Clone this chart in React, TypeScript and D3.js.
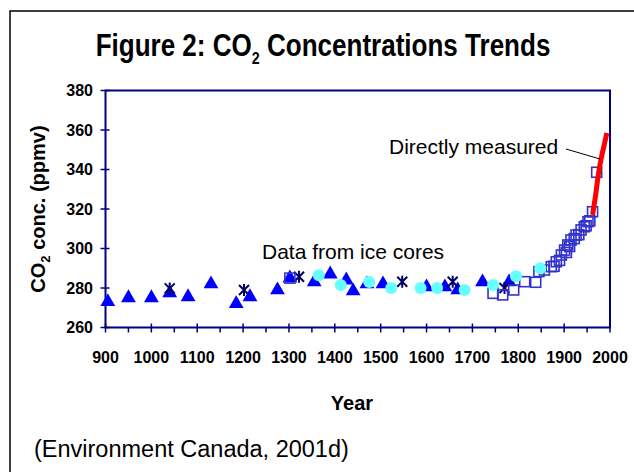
import React from 'react';
import * as d3 from 'd3';

const title = 'Figure 2: CO';
const xTicks = [900, 1000, 1100, 1200, 1300, 1400, 1500, 1600, 1700, 1800, 1900, 2000];
const xMinorTicks = [950, 1050, 1150, 1250, 1350, 1450, 1550, 1650, 1750, 1850, 1950];
const yTicks = [260, 280, 300, 320, 340, 360, 380];

// Ice core series (year, ppmv)
const triangles: [number, number][] = [
  [905, 273], [950, 275], [1000, 275], [1040, 277.5], [1080, 275.5], [1130, 282],
  [1185, 272], [1215, 275.5], [1275, 279], [1302, 285], [1355, 283], [1390, 287],
  [1425, 284], [1440, 278.5], [1470, 282], [1505, 282], [1600, 280.5], [1640, 280.5],
  [1668, 279], [1722, 283], [1780, 283],
];
const circles: [number, number][] = [
  [1365, 286.5], [1413, 281.5], [1475, 283], [1523, 280], [1587, 280], [1623, 280],
  [1683, 279], [1745, 281.5], [1795, 286], [1848, 290],
];
const asterisks: [number, number][] = [
  [1040, 279.8], [1202, 279], [1322, 285.7], [1547, 283.2], [1657, 283.2], [1770, 280],
];
const squares: [number, number][] = [
  [1302, 285], [1745, 277.3], [1766, 276.5], [1790, 279], [1814, 283.2], [1838, 282.9],
  [1845, 288.3], [1857, 289.1], [1872, 290.8], [1878, 291], [1883, 293.3], [1890, 294],
  [1894, 296.7], [1901, 299.2], [1905, 298], [1908, 301.8], [1912, 301], [1915, 304.3],
  [1922, 305], [1926, 306.8], [1932, 307], [1937, 309.4], [1944, 311], [1948, 311.5],
  [1952, 313.6], [1956, 314], [1962, 318.6], [1971, 338.6],
];
// Directly measured
const measured: [number, number][] = [
  [1962, 317], [1968, 326], [1975, 338], [1982, 347], [1988, 353], [1993, 358.5],
];

const FONT = '"Liberation Sans", Arial, Helvetica, sans-serif';
const NAVY = '#000080';

export default function App() {
  const x = d3.scaleLinear().domain([900, 2000]).range([105.5, 610]);
  const y = d3.scaleLinear().domain([260, 380]).range([327.5, 90.5]);
  const tri = d3.symbol().type(d3.symbolTriangle).size(95)() as string;
  const line = d3
    .line<[number, number]>()
    .x((d) => x(d[0]))
    .y((d) => y(d[1]))
    .curve(d3.curveMonotoneX);
  const ast = 'M-5,-5L5,5M-5,5L5,-5M0,-6L0,6';

  return (
    <svg
      width={634}
      height={472}
      style={{ position: 'absolute', left: 0, top: 0, background: '#fff' }}
      fontFamily={FONT}
    >
      <rect x={0} y={0} width={634} height={472} fill="#fff" />
      {/* frame */}
      <path d="M10,480L10,11L640,11" fill="none" stroke="#000" strokeWidth={1.5} />

      {/* title */}
      <text
        transform="translate(323,56) scale(0.84,1)"
        x={0}
        y={0}
        textAnchor="middle"
        fontWeight="bold"
        fontSize={31}
        fill="#000"
      >
        {title}
        <tspan fontSize={17} dy={8}>2</tspan>
        <tspan dy={-8}> Concentrations Trends</tspan>
      </text>

      {/* plot box */}
      <rect
        x={x(900)}
        y={y(380)}
        width={x(2000) - x(900)}
        height={y(260) - y(380)}
        fill="none"
        stroke={NAVY}
        strokeWidth={2}
      />
      {/* y ticks */}
      {yTicks.map((t) => (
        <g key={'y' + t}>
          <line x1={x(900) - 5} x2={x(900) + 4} y1={y(t)} y2={y(t)} stroke={NAVY} strokeWidth={1.5} />
          <text
            x={93}
            y={y(t)}
            dy="0.36em"
            textAnchor="end"
            fontWeight="bold"
            fontSize={16}
            fill="#000"
          >
            {t}
          </text>
        </g>
      ))}
      {/* x ticks */}
      {xTicks.map((t) => (
        <g key={'x' + t}>
          <line x1={x(t)} x2={x(t)} y1={y(260) - 4} y2={y(260) + 5} stroke={NAVY} strokeWidth={1.5} />
          <text
            x={x(t)}
            y={357}
            dy="0.36em"
            textAnchor="middle"
            fontWeight="bold"
            fontSize={16}
            fill="#000"
          >
            {t}
          </text>
        </g>
      ))}
      {xMinorTicks.map((t) => (
        <line key={'m' + t} x1={x(t)} x2={x(t)} y1={y(260)} y2={y(260) + 5} stroke={NAVY} strokeWidth={1.5} />
      ))}

      {/* axis titles */}
      <text
        transform="translate(45,209) rotate(-90)"
        textAnchor="middle"
        fontWeight="bold"
        fontSize={20}
        fill="#000"
      >
        CO<tspan fontSize={13} dy={5}>2</tspan>
        <tspan dy={-5}> conc. (ppmv)</tspan>
      </text>
      <text x={352} y={403} dy="0.36em" textAnchor="middle" fontWeight="bold" fontSize={20} fill="#000">
        Year
      </text>
      <text x={34} y={449} dy="0.36em" fontSize={23.5} fill="#000">
        (Environment Canada, 2001d)
      </text>

      {/* markers */}
      {triangles.map((d, i) => (
        <path key={'t' + i} d={tri} transform={`translate(${x(d[0])},${y(d[1])})`} fill="#0000ff" />
      ))}
      {asterisks.map((d, i) => (
        <path
          key={'a' + i}
          d={ast}
          transform={`translate(${x(d[0])},${y(d[1])})`}
          fill="none"
          stroke="#000066"
          strokeWidth={2}
        />
      ))}
      {squares.map((d, i) => (
        <rect
          key={'s' + i}
          x={x(d[0]) - 5}
          y={y(d[1]) - 5}
          width={10}
          height={10}
          fill="none"
          stroke="#3333cc"
          strokeWidth={1.6}
        />
      ))}
      {circles.map((d, i) => (
        <circle key={'c' + i} cx={x(d[0])} cy={y(d[1])} r={6} fill="#66ffff" />
      ))}
      <path d={line(measured) || ''} fill="none" stroke="#ff0000" strokeWidth={5} />

      {/* annotations */}
      <text x={262} y={251} dy="0.36em" fontSize={21} fill="#000">
        Data from ice cores
      </text>
      <text x={389} y={146} dy="0.36em" fontSize={21} fill="#000">
        Directly measured
      </text>
      <line x1={566} y1={149} x2={600} y2={159} stroke="#000" strokeWidth={1} />
    </svg>
  );
}
